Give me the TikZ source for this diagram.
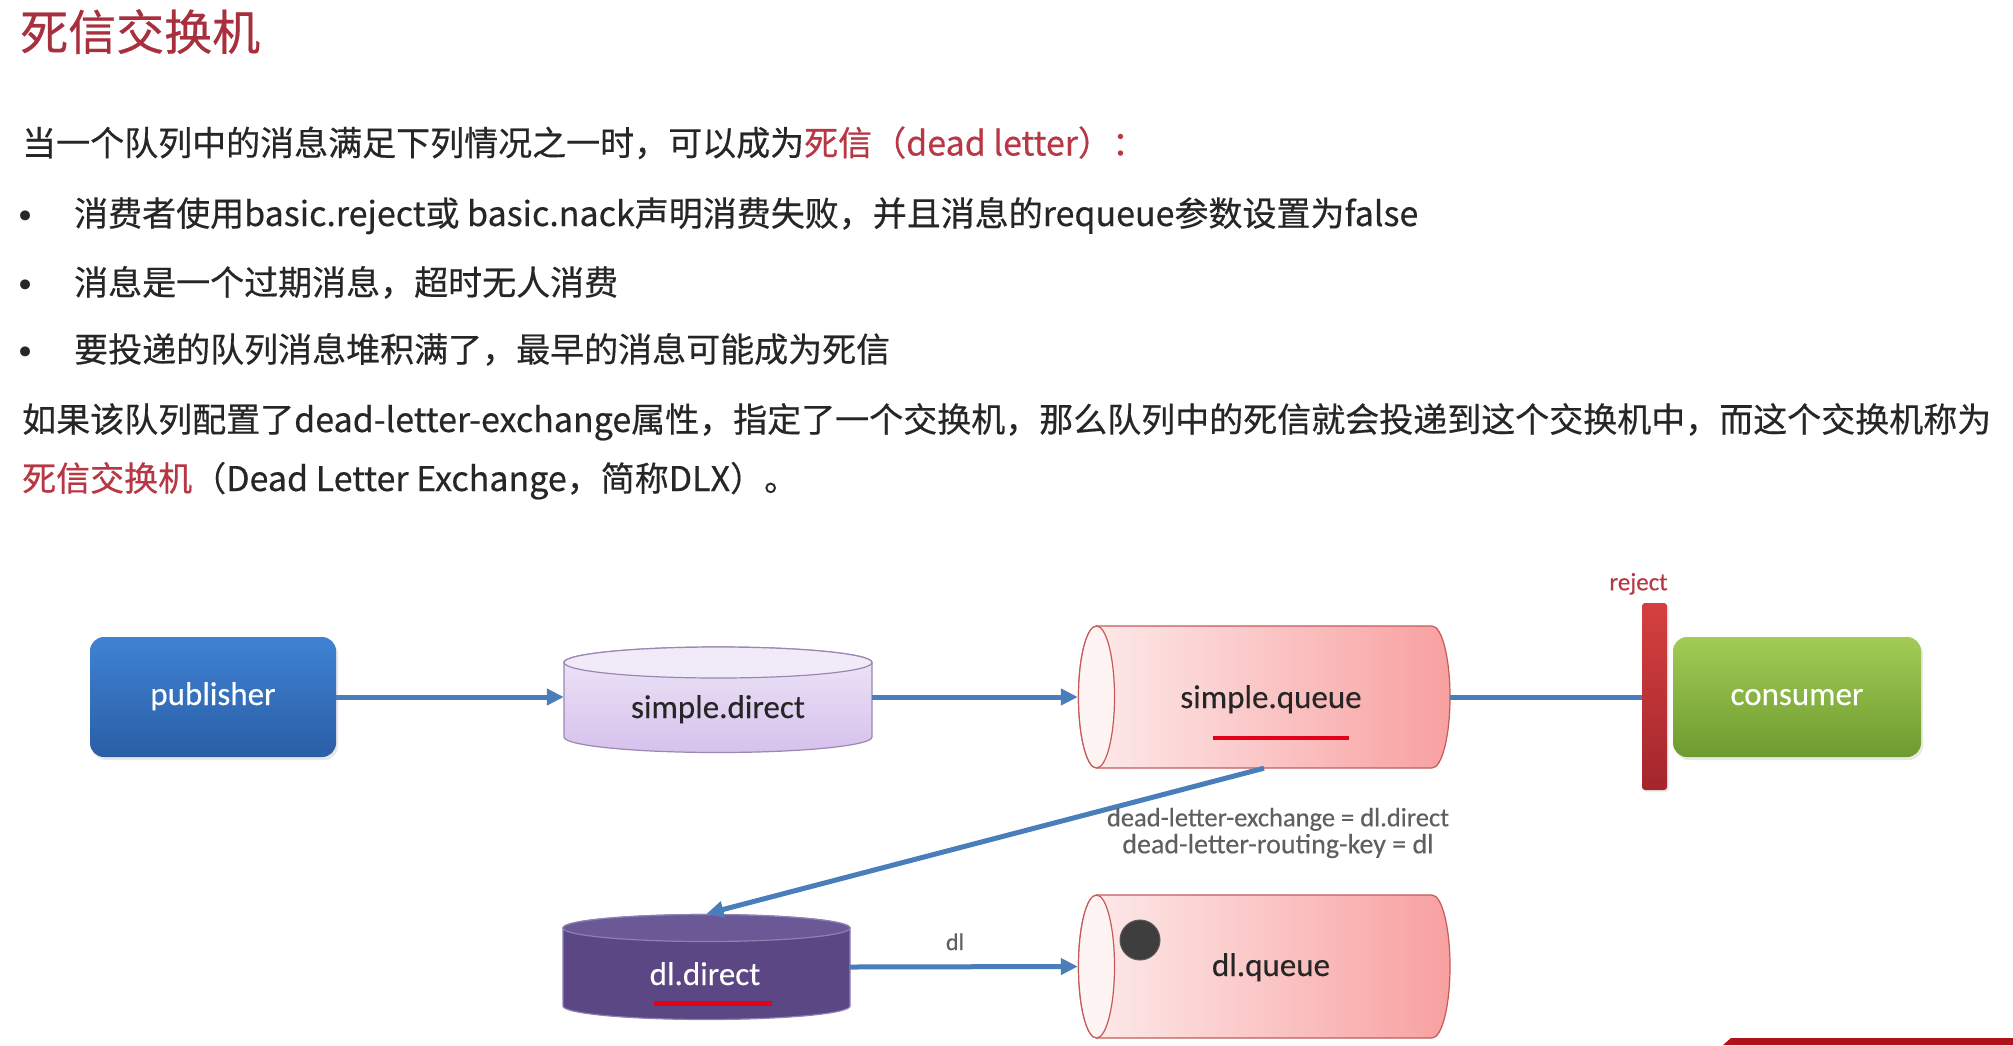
\documentclass[tikz,border=0pt]{standalone}
\usepackage{fontspec}
\setmainfont{Noto Sans CJK SC}[FakeBold=0.45]
\newfontfamily\labfont{Carlito}[FakeBold=0.3]
\newfontfamily\dotfont{DejaVu Sans}
\usetikzlibrary{arrows.meta,shadows}

\definecolor{ink}{HTML}{262626}
\definecolor{titlered}{HTML}{A8303E}
\definecolor{hl}{HTML}{B83744}
\definecolor{flowblue}{HTML}{4A7EBB}
\definecolor{notegray}{HTML}{5F5F5F}
\definecolor{pubtop}{HTML}{3F82D4}
\definecolor{pubbot}{HTML}{2A5EA5}
\definecolor{contop}{HTML}{A2CC55}
\definecolor{conbot}{HTML}{6E9B30}
\definecolor{sdface}{HTML}{F1EAF9}
\definecolor{sdtop}{HTML}{EFE7F8}
\definecolor{sdbot}{HTML}{D6C1EC}
\definecolor{sdline}{HTML}{9A88B2}
\definecolor{qleft}{HTML}{FDECEC}
\definecolor{qright}{HTML}{F8A0A0}
\definecolor{qface}{HTML}{FFF4F4}
\definecolor{qline}{HTML}{C55A5A}
\definecolor{dlbody}{HTML}{5A4783}
\definecolor{dlface}{HTML}{6A5996}
\definecolor{dlline}{HTML}{8E80B5}
\definecolor{rejtop}{HTML}{D5403F}
\definecolor{rejbot}{HTML}{A3262C}
\definecolor{ulred}{HTML}{E3001B}
\definecolor{barred}{HTML}{B0121B}
\definecolor{dotgray}{HTML}{3E3E3E}

\begin{document}
\begin{tikzpicture}[x=1pt,y=-1pt,
  bodytext/.style={font=\fontsize{34}{40}\selectfont, text=ink, inner sep=0pt, anchor=base west},
  bulletdot/.style={font=\dotfont\fontsize{34}{40}\selectfont, text=ink, inner sep=0pt},
  ttl/.style={font=\fontsize{48}{56}\selectfont, text=titlered, inner sep=0pt, anchor=base west},
  lab/.style={font=\labfont\fontsize{33}{40}\selectfont, inner sep=0pt, text height=23pt, text depth=7pt},
  holder/.style={draw=none, inner sep=0pt},
  boxnode/.style={lab, rounded corners=14pt, minimum width=246pt, minimum height=120pt, text=white,
    drop shadow={opacity=0.18, shadow xshift=2pt, shadow yshift=-3pt}},
  flow/.style={draw=flowblue, line width=5pt, -{Triangle[length=17pt,width=16pt]}},
  link/.style={draw=flowblue, line width=5pt},
  uline/.style={draw=ulred, line width=4.5pt},
  note/.style={font=\labfont\fontsize{26.5}{27}\selectfont, text=notegray, align=center, inner sep=0pt},
]
\useasboundingbox (0,0) rectangle (2013,1045);
\fill[white] (0,0) rectangle (2013,1045);

% ---- heading and text ----
\node[ttl] (title) at (20,50) {死信交换机};
\node[bodytext] (l1) at (22,155.5) {当一个队列中的消息满足下列情况之一时，可以成为\textcolor{hl}{死信（dead letter）：}};
\node[bulletdot] (d1) at (26,220) {•};
\node[bodytext] (b1) at (74,226) {消费者使用basic.reject或 basic.nack声明消费失败，并且消息的requeue参数设置为false};
\node[bulletdot] (d2) at (26,289) {•};
\node[bodytext] (b2) at (74,295) {消息是一个过期消息，超时无人消费};
\node[bulletdot] (d3) at (26,356) {•};
\node[bodytext] (b3) at (74,362) {要投递的队列消息堆积满了，最早的消息可能成为死信};
\node[bodytext] (p1) at (22,432) {如果该队列配置了dead-letter-exchange属性，指定了一个交换机，那么队列中的死信就会投递到这个交换机中，而这个交换机称为};
\node[bodytext] (p2) at (22,491) {\textcolor{hl}{死信交换机}（Dead Letter Exchange，简称DLX）。};

% ---- exchange cylinder: simple.direct ----
\path[draw=sdline, line width=1.2pt, top color=sdtop, bottom color=sdbot]
  (564,662.5) -- (564,737) arc[start angle=180,end angle=360,x radius=154pt,y radius=15.5pt]
  -- (872,662.5) arc[start angle=0,end angle=180,x radius=154pt,y radius=15.5pt] -- cycle;
\path[draw=sdline, line width=1.2pt, fill=sdface] (718,662.5) ellipse[x radius=154pt,y radius=15.5pt];
\node[holder, minimum width=308pt, minimum height=105pt,
  label={[lab, text=ink, yshift=-10.5pt]center:simple.direct}] (sdirect) at (718,699.5) {};

% ---- queue cylinder: simple.queue ----
\path[draw=qline, line width=1.2pt, left color=qleft, right color=qright]
  (1096.5,626) -- (1432,626) arc[start angle=90,end angle=-90,x radius=18pt,y radius=71pt]
  -- (1096.5,768) arc[start angle=270,end angle=90,x radius=18pt,y radius=71pt] -- cycle;
\path[draw=qline, line width=1.2pt, fill=qface] (1096.5,697) ellipse[x radius=18pt,y radius=71pt];
\node[holder, minimum width=372pt, minimum height=142pt,
  label={[lab, text=ink, xshift=7pt, yshift=-3pt]center:simple.queue}] (squeue) at (1264,697) {};
\draw[uline] (1212.5,738) -- (1348.5,738);

% ---- exchange cylinder: dl.direct ----
\path[draw=dlline, line width=1.2pt, fill=dlbody]
  (563,928) -- (563,1006) arc[start angle=180,end angle=360,x radius=143.5pt,y radius=13.5pt]
  -- (850,928) arc[start angle=0,end angle=180,x radius=143.5pt,y radius=13.5pt] -- cycle;
\path[draw=dlline, line width=1.2pt, fill=dlface] (706.5,928) ellipse[x radius=143.5pt,y radius=13.5pt];
\node[holder, minimum width=287pt, minimum height=106pt,
  label={[lab, text=white, xshift=-1.5pt, yshift=-10pt]center:dl.direct}] (dldirect) at (706.5,967) {};
\draw[uline, line width=5pt] (654,1003) -- (772,1003);

% ---- queue cylinder: dl.queue ----
\path[draw=qline, line width=1.2pt, left color=qleft, right color=qright]
  (1096.5,895) -- (1432,895) arc[start angle=90,end angle=-90,x radius=18pt,y radius=71.5pt]
  -- (1096.5,1038) arc[start angle=270,end angle=90,x radius=18pt,y radius=71.5pt] -- cycle;
\path[draw=qline, line width=1.2pt, fill=qface] (1096.5,966.5) ellipse[x radius=18pt,y radius=71.5pt];
\node[holder, minimum width=372pt, minimum height=143pt,
  label={[lab, text=ink, xshift=7pt, yshift=-1.5pt]center:dl.queue}] (dlqueue) at (1264,966.5) {};
\fill[dotgray, draw=gray!70!black, line width=1pt] (1140,940) circle[radius=20pt];

% ---- publisher, consumer, reject barrier ----
\node[boxnode, top color=pubtop, bottom color=pubbot] (publisher) at (213,697) {publisher};
\node[boxnode, minimum width=248pt, top color=contop, bottom color=conbot] (consumer) at (1797,697) {consumer};
\node[draw=none, rounded corners=3pt, minimum width=25pt, minimum height=187pt, inner sep=0pt,
  top color=rejtop, bottom color=rejbot,
  drop shadow={opacity=0.15, shadow xshift=2pt, shadow yshift=-2pt},
  label={[font=\labfont\fontsize{25}{30}\selectfont, text=hl, inner sep=0pt, label distance=8pt, xshift=-16pt]above:reject}]
  (rejectbar) at (1654.5,696.5) {};

% ---- message flow ----
\draw[flow] (publisher.east) -- (publisher.east -| sdirect.west);
\draw[flow] (sdirect.east |- publisher.east) -- (squeue.west);
\draw[link] (squeue.east) -- (squeue.east -| rejectbar.west);
\draw[flow] (squeue.south) -- (dldirect.north);
\draw[flow] (dldirect.east) -- node[midway, above=14pt, xshift=-9pt, font=\labfont\fontsize{24}{28}\selectfont, text=notegray, inner sep=0pt] {dl} (dlqueue.west);
\node[note] (dlnote) at (1278,833) {dead-letter-exchange = dl.direct\\\fontsize{28}{28}\selectfont dead-letter-routing-key = dl};

% ---- footer stripe ----
\fill[barred] (1723,1045) -- (1731,1038) -- (2013,1038) -- (2013,1045) -- cycle;
\end{tikzpicture}
\end{document}
